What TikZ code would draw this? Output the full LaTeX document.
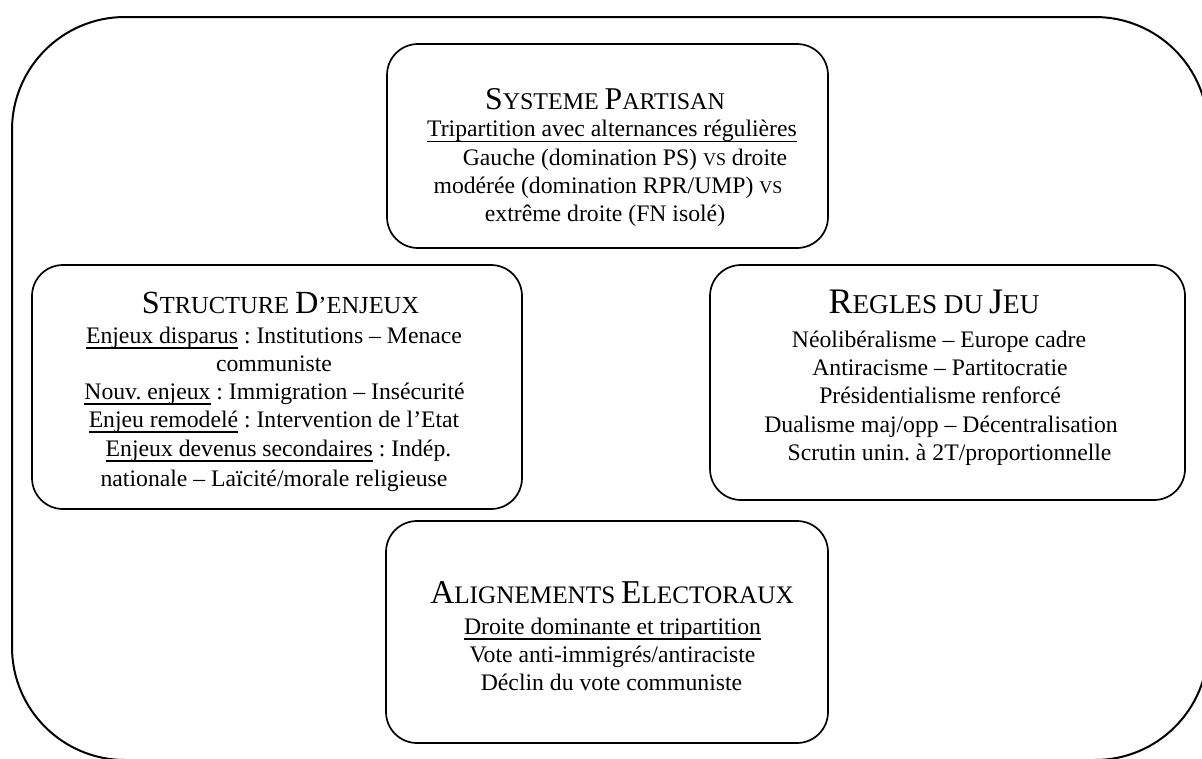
\documentclass[tikz,border=0pt]{standalone}
\usepackage{fontspec}
\setmainfont{Liberation Serif}
\newcommand\bigc[2][31.7]{{\fontsize{#1}{32}\selectfont #2}}
\newcommand\smc[2][24]{{\fontsize{#1}{24}\selectfont #2}}
\newcommand\myul[1]{{\setbox0\hbox{#1}\rlap{\rule[-5.6pt]{\wd0}{1.3pt}}\box0}}
\newcommand\vsc{{\fontsize{18}{18}\selectfont VS}}
\begin{document}
\frenchspacing
\begin{tikzpicture}[x=1pt,y=-1pt,
  frame/.style={draw, line width=2pt, rounded corners=113pt, inner sep=0pt, outer sep=0pt},
  boxst/.style={draw, line width=1.7pt, rounded corners=31pt, inner sep=0pt, outer sep=0pt},
  ln/.style={anchor=base, inner sep=0pt, font=\fontsize{23.7}{28}\selectfont},
]
\useasboundingbox (0,0) rectangle (1202,758);
\clip (0,0) rectangle (1202,758);
\node[frame, minimum width=1196pt, minimum height=743pt] (outer) at (610,388.5) {};

% boxes
\node[boxst, minimum width=441pt, minimum height=204pt] (sp) at (607.5,146) {};
\node[boxst, minimum width=490pt, minimum height=244pt] (se) at (277,387) {};
\node[boxst, minimum width=475pt, minimum height=235pt] (rj) at (947.5,382.5) {};
\node[boxst, minimum width=442pt, minimum height=222pt] (ae) at (607,632) {};

% Systeme partisan
\node[ln] (sp0) at (605,109) {\bigc{S}\smc{YSTEME} \bigc{P}\smc{ARTISAN}};
\node[ln] (sp1) at (612,136.7) {\myul{Tripartition avec alternances régulières}};
\node[ln] (sp2) at (625,165) {Gauche (domination PS) \vsc{} droite};
\node[ln] (sp3) at (608,193) {modérée (domination RPR/UMP) \vsc};
\node[ln] (sp4) at (605,221) {extrême droite (FN isolé)};

% Structure d'enjeux
\node[ln] (se0) at (280.5,313) {\bigc[32.3]{S}\smc[24.5]{TRUCTURE} \bigc[32.3]{D}\smc[24.5]{’ENJEUX}};
\node[ln] (se1) at (274,343) {\myul{Enjeux disparus} : Institutions – Menace};
\node[ln] (se2) at (274,371) {communiste};
\node[ln] (se3) at (274.5,399) {\myul{Nouv. enjeux} : Immigration – Insécurité};
\node[ln] (se4) at (274,427) {\myul{Enjeu remodelé} : Intervention de l’Etat};
\node[ln] (se5) at (278.5,456) {\myul{Enjeux devenus secondaires} : Indép.};
\node[ln] (se6) at (274,486) {nationale – Laïcité/morale religieuse};

% Regles du jeu
\node[ln] (rj0) at (934,313) {\bigc[35.9]{R}\smc[27.2]{EGLES DU} \bigc[35.9]{J}\smc[27.2]{EU}};
\node[ln] (rj1) at (939,347) {Néolibéralisme – Europe cadre};
\node[ln] (rj2) at (940,375) {Antiracisme – Partitocratie};
\node[ln] (rj3) at (940,403) {Présidentialisme renforcé};
\node[ln] (rj4) at (941,432) {Dualisme maj/opp – Décentralisation};
\node[ln] (rj5) at (949.5,460) {Scrutin unin. à 2T/proportionnelle};

% Alignements electoraux
\node[ln] (ae0) at (612,603) {\bigc[33.3]{A}\smc[25.2]{LIGNEMENTS} \bigc[33.3]{E}\smc[25.2]{LECTORAUX}};
\node[ln] (ae1) at (612.5,634) {\myul{Droite dominante et tripartition}};
\node[ln] (ae2) at (612.5,662) {Vote anti-immigrés/antiraciste};
\node[ln] (ae3) at (611.5,690) {Déclin du vote communiste};
\end{tikzpicture}
\end{document}
